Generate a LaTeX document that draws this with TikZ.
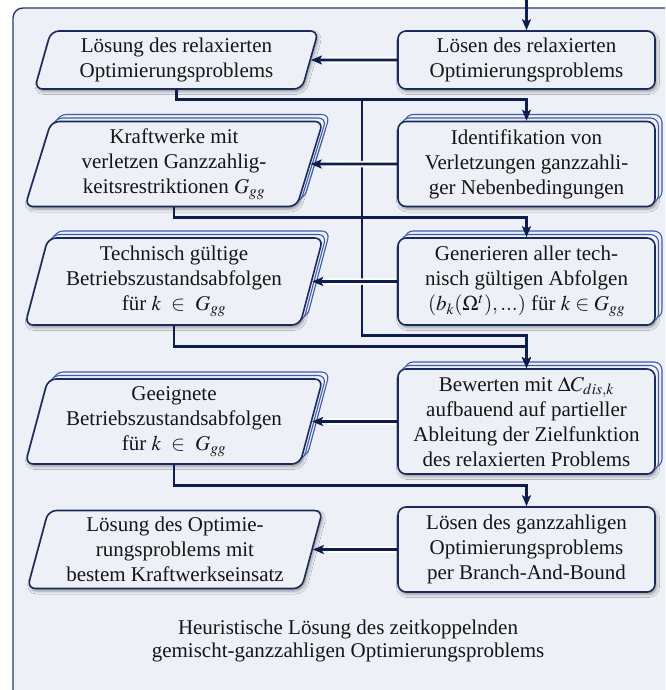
\documentclass[tikz,border=0pt]{standalone}
\usepackage{mathptmx}
\usepackage{fontspec}
\setmainfont{Liberation Serif}
\usetikzlibrary{shapes.geometric,shadows,shadows.blur,arrows.meta,calc}
\definecolor{bg}{HTML}{EDF1F7}
\definecolor{outerline}{HTML}{2B3A6B}
\definecolor{boxline}{HTML}{1B2A5A}
\definecolor{conn}{HTML}{0E1E4C}
\definecolor{copyline}{HTML}{3F5BA8}
\definecolor{txt}{HTML}{151515}
\begin{document}
\begin{tikzpicture}[x=1pt,y=-1pt,
  font=\fontsize{21}{25}\selectfont,
  boxbase/.style={draw=boxline, line width=1.6pt, fill=bg, align=center, text=txt, inner sep=2pt,
    blur shadow={shadow xshift=1.5pt, shadow yshift=-2.5pt, shadow blur radius=3pt, shadow opacity=40}},
  rbox/.style={boxbase, rectangle, rounded corners=8pt, minimum width=257pt},
  lbox/.style={boxbase, trapezium, trapezium left angle=75, trapezium right angle=105,
    trapezium stretches=true, rounded corners=8pt},
  stack/.style={copy shadow={shadow xshift=7pt, shadow yshift=7pt, draw=copyline, fill=bg, line width=1.1pt},
    copy shadow={shadow xshift=3.5pt, shadow yshift=3.5pt, draw=copyline, fill=bg, line width=1.1pt}},
  arr/.style={draw=conn, line width=2.7pt, -{Stealth[length=11pt,width=9pt,inset=2.5pt]}},
  harr/.style={arr, preaction={draw=white, line width=6.5pt, arrows=-, shorten >=15pt, shorten <=2pt}},
  outer/.style={draw=outerline, line width=1.4pt, fill=bg, rounded corners=10pt}
]
\useasboundingbox (0,0) rectangle (665,690);
\clip (0,0) rectangle (665,690);
\path[outer] (13,8) rectangle (685,702);

% right column
\node[rbox, minimum height=58pt] (R1) at (526.5,60) {Lösen des relaxierten\\Optimierungsproblems};
\node[rbox, stack, minimum height=85pt] (R2) at (526.5,164) {Identifikation von\\Verletzungen ganzzahli-\\ger Nebenbedingungen};
\node[rbox, stack, minimum height=87pt] (R3) at (526.5,281.5) {Generieren aller tech-\\nisch gültigen Abfolgen\\$\left(b_k(\Omega^t),...\right)$ für $k \in G_{gg}$};
\node[rbox, stack, minimum height=105pt] (R4) at (526.5,421.5) {Bewerten mit $\Delta C_{dis,k}$\\aufbauend auf partieller\\Ableitung der Zielfunktion\\des relaxierten Problems};
\node[rbox, minimum height=85pt] (R5) at (526.5,549.5) {Lösen des ganzzahligen\\Optimierungsproblems\\per Branch-And-Bound};

% left column
\node[lbox, minimum width=284pt, minimum height=58pt] (L1) at (176.5,60) {Lösung des relaxierten\\Optimierungsproblems};
\node[lbox, stack, minimum width=298pt, minimum height=85pt] (L2) at (174,164) {Kraftwerke mit\\verletzen Ganzzahlig-\\keitsrestriktionen $G_{gg}$};
\node[lbox, stack, minimum width=298pt, minimum height=87pt] (L3) at (174,281.5) {Technisch gültige\\Betriebszustandsabfolgen\\für $k\ \in\ G_{gg}$};
\node[lbox, stack, minimum width=298pt, minimum height=85pt] (L4) at (174,421.5) {Geeignete\\Betriebszustandsabfolgen\\für $k\ \in\ G_{gg}$};
\node[lbox, minimum width=296pt, minimum height=78pt] (L5) at (175,549.5) {Lösung des Optimie-\\rungsproblems mit\\bestem Kraftwerkseinsatz};

% caption
\node[align=center, text=txt] (cap) at (348,641) {Heuristische Lösung des zeitkoppelnden\\[-2pt]gemischt-ganzzahligen Optimierungsproblems};

% connectors
\coordinate (in) at (526.5,0);
\draw[arr] (in) -- (R1);
\draw[arr] (L1.south) -- ++(0,10) -| (R2.north);
\coordinate (br) at ($(L1.south)+(185.5,10)$);
\draw[arr] (br) |- ($(R4.north)+(0,-33)$) -- (R4.north);
\draw[arr] (L2.south) -- ++(0,10) -| (R3.north);
\draw[arr] (L3.south) -- ++(0,21) -| (R4.north);
\draw[arr] (L4.south) -- ++(0,21) -| (R5.north);

\draw[harr] (R1) -- (L1);
\draw[harr] (R2) -- (L2);
\draw[harr] (R3) -- (L3);
\draw[harr] (R4) -- (L4);
\draw[harr] (R5) -- (L5);
\end{tikzpicture}
\end{document}
